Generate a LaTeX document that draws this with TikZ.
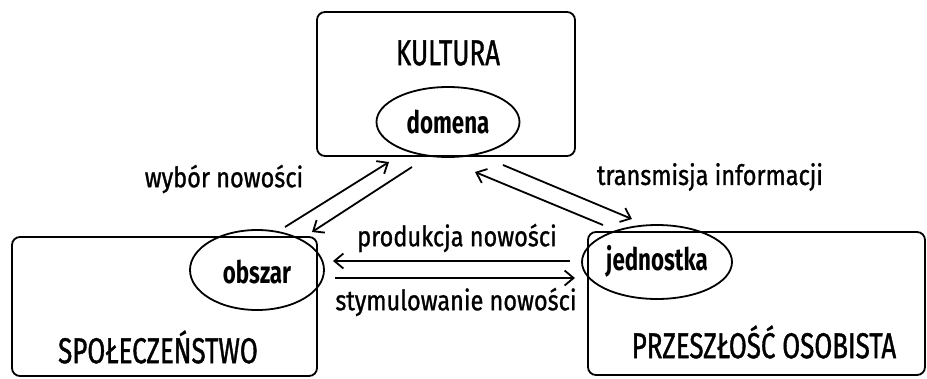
\documentclass[tikz,border=0pt]{standalone}
\usepackage{fontspec}
\setmainfont{Fira Sans}[FakeStretch=0.72]
\newfontfamily\titlefont{Fira Sans}[FakeStretch=0.72, FakeBold=1.0]
\newfontfamily\lblfont{Fira Sans}[FakeStretch=0.84, FakeBold=1.0]
\newfontfamily\boldfont{Fira Sans Bold}[FakeStretch=0.72]
\usetikzlibrary{shapes.geometric,arrows.meta}
\tikzset{
  box/.style={draw, line width=1.8pt, rounded corners=8pt},
  oval/.style={draw, ellipse, line width=1.8pt, inner sep=0pt},
  title/.style={font=\titlefont\fontsize{36}{40}\selectfont, inner sep=0pt},
  lbl/.style={font=\lblfont\fontsize{28}{31}\selectfont, inner sep=0pt},
  blbl/.style={font=\boldfont\fontsize{31}{34}\selectfont, inner sep=0pt},
  arr/.style={line width=1.8pt, -{Straight Barb[length=9pt,width=15pt,line width=1.8pt]}}
}
\begin{document}
\begin{tikzpicture}[x=1pt,y=-1pt]
\useasboundingbox (0,0) rectangle (927,378);
% boxes
\draw[box] (317,12) rectangle (575,156);
\draw[box] (12,237) rectangle (317,376);
\draw[box] (588,232) rectangle (925,375);
% ellipses
\node[oval, minimum width=143pt, minimum height=70pt] (domena) at (448,122) {};
\node[oval, minimum width=134pt, minimum height=80pt] (obszar) at (257,270) {};
\node[oval, minimum width=150pt, minimum height=74pt] (jednostka) at (657,262) {};
% texts
\node[title] (kultura) at (448,53) {KULTURA};
\node[title] (spol) at (158,347) {SPOŁECZEŃSTWO};
\node[title] (przesz) at (764,342) {PRZESZŁOŚĆ OSOBISTA};
\node[blbl] at (domena.center) {domena};
\node[blbl] at ([yshift=-2pt]obszar.center) {obszar};
\node[blbl] at ([yshift=1pt]jednostka.center) {jednostka};
\node[lbl] (wybor) at (224,179) {wybór nowości};
\node[lbl] (trans) at (710,177) {transmisja informacji};
\node[lbl] (prod) at (457,238) {produkcja nowości};
\node[lbl] (stym) at (456,302) {stymulowanie nowości};
% arrow endpoints
\coordinate (w1s) at (285,227); \coordinate (w1e) at (389,162);
\coordinate (w2s) at (412,167); \coordinate (w2e) at (312,232);
\coordinate (t1s) at (503,165); \coordinate (t1e) at (632,219);
\coordinate (t2s) at (603,225); \coordinate (t2e) at (475,172);
\coordinate (p1s) at (570,261); \coordinate (p1e) at (333,261);
\coordinate (s1s) at (335,278); \coordinate (s1e) at (575,278);
\draw[arr] (w1s) -- (w1e);
\draw[arr] (w2s) -- (w2e);
\draw[arr] (t1s) -- (t1e);
\draw[arr] (t2s) -- (t2e);
\draw[arr] (p1s) -- (p1e);
\draw[arr] (s1s) -- (s1e);
\end{tikzpicture}
\end{document}
